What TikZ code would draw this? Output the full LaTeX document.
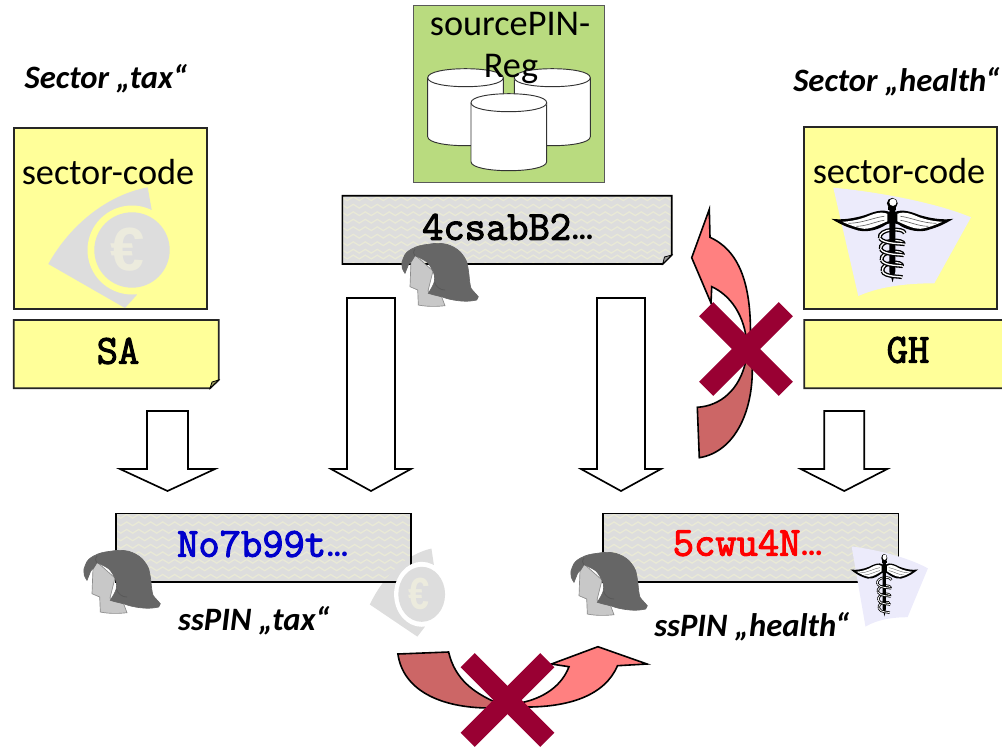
\documentclass[tikz,border=0pt]{standalone}
\usepackage{fontspec}
\setmainfont{Carlito}
\newfontfamily\eurofont{Liberation Sans}
\newfontfamily\codefont{Latin Modern Mono}[FakeBold=2.6]
\usetikzlibrary{decorations.pathmorphing}
\definecolor{noteyellow}{HTML}{FFFF99}
\definecolor{reggreen}{HTML}{B9DB7F}
\definecolor{patgrey}{HTML}{DDDDDD}
\definecolor{patlight}{HTML}{E9E9D6}
\definecolor{crossred}{HTML}{990033}
\definecolor{arrowpink}{HTML}{FF8080}
\definecolor{arrowdark}{HTML}{CC6666}
\definecolor{lav}{HTML}{ECEBFB}
\definecolor{eurolight}{HTML}{ECEBDD}
\definecolor{hairgrey}{HTML}{666666}
\definecolor{facegrey}{HTML}{C8C8C8}
\newcommand{\Ell}{{\rmfamily\bfseries\fontsize{24}{30}\selectfont …}}
\tikzset{
 x=0.75pt,y=-0.75pt,
 note/.style={draw=black!85,line width=1.3pt,fill=noteyellow},
 patbox/.style={draw=black,line width=1.2pt},
 down/.style={draw=black,line width=1.25pt,fill=white},
 codetext/.style={font=\codefont\fontsize{31}{34}\selectfont,inner sep=0pt},
 keytext/.style={font=\bfseries\itshape\fontsize{24.5}{28}\selectfont,inner sep=0pt},
 boxtext/.style={font=\fontsize{27.2}{32}\selectfont,inner sep=0pt},
 xmark/.style={draw=crossred,line width=15pt},
 cyl/.style={draw=black!80,line width=0.7pt,fill=white},
 curved/.style={draw=black,line width=1.2pt}
}
\newcommand{\PatFill}[4]{%
 \begin{scope}
 \clip (#1,#2) rectangle (#3,#4);
 \foreach \yy in {#2,7.5+#2,15+#2,22.5+#2,30+#2,37.5+#2,45+#2,52.5+#2,60+#2,67.5+#2}{
  \draw[patlight,line width=1pt,decorate,decoration={zigzag,segment length=9pt,amplitude=1.4pt}] (#1-4,\yy+3) -- (#3+4,\yy+3);
 }
 \end{scope}}
\newcommand{\Head}[3]{%
 \begin{scope}[shift={(#1,#2)}]
 \coordinate (#3) at (0,0);
 \fill[facegrey,draw=black!45,line width=0.5pt] (11,18) -- (10,43.7) -- (17.7,47) -- (18.3,62) .. controls (28,64) and (38,63.5) .. (45,62.7) -- (41.7,54) -- (28,48) -- (33,28) -- (15,12) -- cycle;
 \fill[hairgrey,draw=black!60,line width=0.5pt] (2.3,25.3) .. controls (1.5,20) and (2,17) .. (3.3,15.3) .. controls (5,10) and (8,8) .. (11.7,6) .. controls (17,3) and (22,2) .. (28.3,1.3) .. controls (35,0) and (41,0) .. (46.7,1.3) .. controls (52,3) and (56,5) .. (60,8.7) .. controls (63,12) and (65,15) .. (66.7,18.7) .. controls (68,24) and (68.5,28) .. (69,32) .. controls (69.5,38) and (70,42) .. (71,45.3) .. controls (73,48) and (76,51) .. (78.3,53.7) -- (76.7,57) .. controls (70,58.5) and (64,58.5) .. (58.3,57.7) .. controls (52,57) and (46,55.5) .. (41.7,53.7) .. controls (36,52.5) and (32,51.5) .. (28.3,50.3) .. controls (31,46) and (33.5,42) .. (34.3,38.7) .. controls (35,34) and (34.5,31) .. (33.3,28.7) .. controls (31,24) and (29,21) .. (26.7,18.7) .. controls (22,15.5) and (18,14) .. (15,12.7) .. controls (14,14) and (13,16) .. (11.7,18) .. controls (10,19) and (9,20.5) .. (8.3,22) .. controls (7,25) and (6,28) .. (5,30.3) .. controls (4,29) and (3,27) .. (2.3,25.3) -- cycle;
 \draw[black!65,line width=0.6pt] (34.3,38.7) .. controls (36,44) and (40,47) .. (45,47);
 \draw[black!65,line width=0.6pt] (15,12.7) .. controls (13,11) and (13,9) .. (15,6);
 \end{scope}}
\newcommand{\EuroSwoosh}[4]{%
 \begin{scope}[shift={(#1,#2)},xscale=#3,yscale=#4]
 \fill[patgrey] (15.7,-62.7) -- (19.7,-40) -- (4.7,45) -- (-7,58) -- (-83.7,14) .. controls (-62,-25) and (-25,-55) .. cycle;
 \end{scope}}
\newcommand{\EuroDisc}[6]{%
 \begin{scope}[shift={(#1,#2)},xscale=#3,yscale=#4]
 \fill[#5] (0,0) circle [radius=44.5];
 \fill[patgrey] (0,0) circle [radius=37.7];
 \node[transform shape,text=eurolight,inner sep=0pt,font=\eurofont\bfseries\fontsize{46}{46}\selectfont,yscale=-1] (#6) at (-4,0) {€};
 \end{scope}}
\newcommand{\Caduceus}[5]{%
 \begin{scope}[shift={(#1,#2)},xscale=#3,yscale=#4]
 \fill[lav] (-59,-15.6) .. controls (-20,-12) and (40,-2) .. (78.7,14) -- (42,80) .. controls (20,80) and (-10,82) .. (-34,92.7) -- cycle;
 \foreach \cy in {32,43,54,65}{
  \draw[black,line width=#5*3pt] (-15+\cy*0.08,\cy+3) .. controls (-18+\cy*0.1,\cy-7) and (14-\cy*0.05,\cy-8) .. (15-\cy*0.08,\cy-2);
  \draw[white,line width=#5*1pt] (-15+\cy*0.08,\cy+3) .. controls (-18+\cy*0.1,\cy-7) and (14-\cy*0.05,\cy-8) .. (15-\cy*0.08,\cy-2);
 }
 \foreach \s in {-1,1}{
  \fill[black] (\s*2,9) .. controls (\s*10,5) and (\s*20,9) .. (\s*27,11.7) .. controls (\s*38,15) and (\s*50,17) .. (\s*61,15.5) .. controls (\s*52,21) and (\s*45,24) .. (\s*38,26) .. controls (\s*28,30) and (\s*16,27) .. (\s*9,23) .. controls (\s*6,21) and (\s*4,20) .. (\s*2,20) -- cycle;
  \fill[white] (\s*5,10.5) .. controls (\s*12,7.5) and (\s*20,11) .. (\s*27,14) .. controls (\s*34,16.5) and (\s*42,18) .. (\s*50,18.5) .. controls (\s*42,22) and (\s*36,24.5) .. (\s*28,25.5) .. controls (\s*20,25.5) and (\s*12,21) .. (\s*5,18) -- cycle;
  \draw[black!60,line width=#5*0.5pt] (\s*8,13) .. controls (\s*18,14) and (\s*30,20) .. (\s*44,20);
  \draw[black!60,line width=#5*0.5pt] (\s*8,17) .. controls (\s*16,18) and (\s*26,23) .. (\s*36,23);
 }
 \fill[black] (-3,4) -- (3,4) -- (3,68) -- (0.3,79) -- (-3,68) -- cycle;
 \fill[black] (0,0) circle [radius=5.4];
 \fill[white] (0.6,-1) circle [radius=3.6];
 \fill[black] (-4,4) rectangle (4,7);
 \foreach \cy in {32,43,54,65}{
  \draw[black,line width=#5*3pt] (-15+\cy*0.08,\cy+3) .. controls (-8,\cy+9) and (10,\cy+8) .. (15-\cy*0.08,\cy-2+11);
  \draw[white,line width=#5*1pt] (-15+\cy*0.08,\cy+3) .. controls (-8,\cy+9) and (10,\cy+8) .. (15-\cy*0.08,\cy-2+11);
 }
 \end{scope}}
\newcommand{\DownArrow}[6]{%
 \draw[down] (#1,#3) -- (#2,#3) -- (#2,#4) -- (#6,#4) -- ({(#1+#2)/2},491) -- (#5,#4) -- (#1,#4) -- cycle;}
\newcommand{\Cyl}[3]{%
 \draw[cyl] (#1,#3) -- (#1,#3+59) .. controls (#1,#3+71) and (#2,#3+71) .. (#2,#3+59) -- (#2,#3) .. controls (#2,#3-12) and (#1,#3-12) .. (#1,#3) -- cycle;
 \draw[cyl] (#1,#3) .. controls (#1,#3+12) and (#2,#3+12) .. (#2,#3);}
\begin{document}
\begin{tikzpicture}
\useasboundingbox (0,0) rectangle (1002,746);

% left sector
\node[keytext] (sectax) at (106,79) {Sector „tax“};
\draw[note] (13.7,127.7) rectangle (206.7,309.3);
\EuroSwoosh{132}{250}{1}{1}
\EuroDisc{132}{250}{1}{1}{noteyellow}{eurobig}
\node[boxtext] (codeL) at (108,172) {sector-code};
\draw[note] (13.7,320) -- (218.7,320) -- (218.7,380) -- (210,388.3) -- (13.7,388.3) -- cycle;
\fill[noteyellow!60!black,draw=black,line width=0.6pt] (210,388.3) -- (212,382) -- (218.7,380) -- cycle;
\node[codetext] (sa) at (118,351) {SA};

% registry
\draw[fill=reggreen,draw=black!65,line width=0.7pt] (413.3,5) rectangle (604.3,182.7);
\Cyl{427.7}{503.3}{77.7}
\Cyl{514.3}{590.3}{77.7}
\node[boxtext] (regA) at (510,24) {sourcePIN-};
\node[boxtext] (regB) at (511,69) {Reg};
\Cyl{471}{546.7}{102.7}

% source pin
\fill[patgrey] (342.3,195.7) -- (671.7,195.7) -- (671.7,255) -- (662.7,264) -- (342.3,264) -- cycle;
\PatFill{342.3}{195.7}{671.7}{254}
\PatFill{342.3}{254}{662}{264}
\draw[patbox] (342.3,195.7) -- (671.7,195.7) -- (671.7,255) -- (662.7,264) -- (342.3,264) -- cycle;
\fill[patgrey!70!black,draw=black,line width=0.6pt] (662.7,264) -- (664.5,257) -- (671.7,255) -- cycle;
\node[codetext] (src) at (508,227) {4csabB2\Ell};
\Head{400}{243}{headA}

% right sector
\node[keytext] (sechealth) at (896.5,82) {Sector „health“};
\draw[note] (804.3,127.3) rectangle (997.3,309.3);
\Caduceus{892.3}{203.3}{1}{1}{1}
\node[boxtext] (codeR) at (899,171) {sector-code};
\draw[note] (804.3,320) -- (1012,320) -- (1012,380) -- (1003,388.3) -- (804.3,388.3) -- cycle;
\node[codetext] (gh) at (908,350) {GH};

% down arrows
\DownArrow{147}{188}{411}{469}{120}{215}
\DownArrow{347}{395}{298}{469}{331}{411}
\DownArrow{597}{645}{298}{469}{581}{661}
\DownArrow{824.3}{864.3}{411}{469}{800.7}{887.3}

% tax pin
\fill[patgrey] (115.7,513.3) rectangle (411,581.7);
\PatFill{115.7}{513.3}{411}{581.7}
\EuroSwoosh{421.7}{594.3}{0.62}{0.73}
\draw[patbox] (115.7,581.7) -- (411,581.7) -- (411,513.3) -- (115.7,513.3) -- cycle;
\EuroDisc{421.7}{594.3}{0.62}{0.73}{white}{eurosmall}
\node[codetext,text={rgb,255:red,0;green,0;blue,204}] (taxpin) at (263,544) {No7b99t\Ell};
\Head{82}{550}{headB}
\node[keytext] (taxlabel) at (254,621) {ssPIN „tax“};

% health pin
\fill[patgrey] (603,513.3) rectangle (898.6,581.7);
\PatFill{603}{513.3}{898.6}{581.7}
\draw[patbox] (603,513.3) rectangle (898.6,581.7);
\node[codetext,text=red] (healthpin) at (748,543) {5cwu4N\Ell};
\Caduceus{884.3}{558}{0.554}{0.74}{0.6}
\Head{569}{552}{headC}
\node[keytext] (healthlabel) at (752,627) {ssPIN „health“};

% curved arrows right
\draw[curved,fill=arrowpink] (709.3,209.3) -- (691.7,257.7) -- (711,303) -- (711.7,286.7) .. controls (730,295) and (745,315) .. (747,345) -- (750,350) .. controls (753,290) and (742,252) .. (710,237.3) -- cycle;
\draw[curved,fill=arrowdark] (699.3,457.7) -- (697.3,407.3) .. controls (720,406) and (740,390) .. (746,360) -- (752,360) .. controls (755,410) and (735,452) .. cycle;
\coordinate (xa) at (746,349);
\draw[xmark] ([shift={(-39.8,-39.8)}]xa) -- ([shift={(39.8,39.8)}]xa);
\draw[xmark] ([shift={(-39.8,39.8)}]xa) -- ([shift={(39.8,-39.8)}]xa);

% curved arrows bottom
\draw[curved,fill=arrowdark] (397.9,654) -- (448.6,652) .. controls (455,680) and (475,693) .. (495,702) -- (490,708) .. controls (440,708) and (403,690) .. cycle;
\draw[curved,fill=arrowpink] (520,703) .. controls (545,698) and (562,685) .. (569,666.7) -- (551.4,664) -- (597.9,646.7) -- (647,664) -- (617.5,665.7) .. controls (605,695) and (570,708) .. (520,707) -- cycle;
\coordinate (xb) at (507.5,700);
\draw[xmark] ([shift={(-39.8,-39.8)}]xb) -- ([shift={(39.8,39.8)}]xb);
\draw[xmark] ([shift={(-39.8,39.8)}]xb) -- ([shift={(39.8,-39.8)}]xb);
\end{tikzpicture}
\end{document}
